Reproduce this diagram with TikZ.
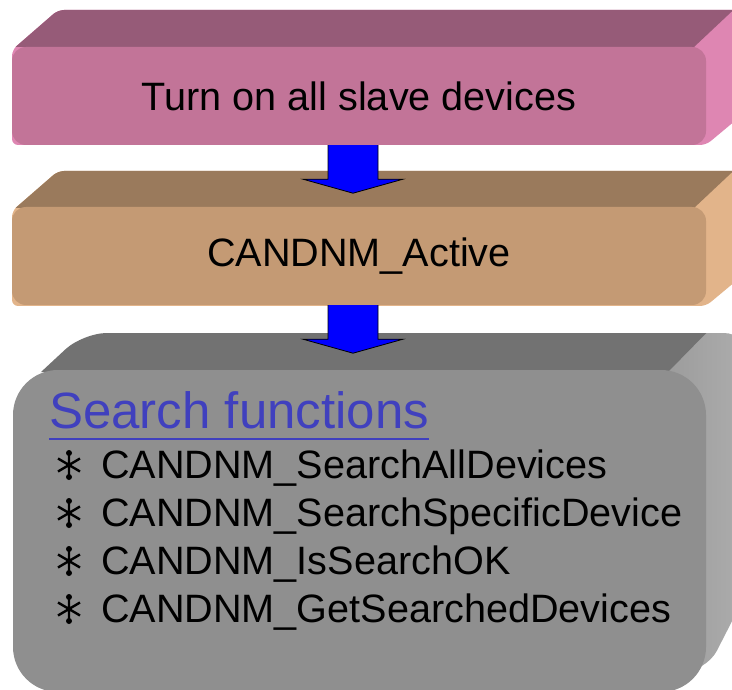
\documentclass[tikz,border=0pt]{standalone}
\usepackage{fontspec}
\setmainfont{Liberation Sans}
\usetikzlibrary{calc}

\definecolor{pinkfront}{RGB}{194,116,152}
\definecolor{pinktop}{RGB}{150,91,120}
\definecolor{pinkside}{RGB}{222,134,178}
\definecolor{tanfront}{RGB}{196,154,116}
\definecolor{tantop}{RGB}{154,122,92}
\definecolor{tanside}{RGB}{226,180,138}
\definecolor{greyfront}{RGB}{143,143,143}
\definecolor{greytop}{RGB}{114,114,114}
\definecolor{greysideA}{RGB}{150,150,150}
\definecolor{greysideB}{RGB}{176,176,176}
\definecolor{headblue}{RGB}{64,64,190}
\definecolor{flowblue}{RGB}{0,0,255}

% blue flow arrow hanging below the south anchor of a node
\newcommand\flowarrow[2]{%
  \coordinate (#2) at ($(#1.south)+(-6,48)$);
  \filldraw[flowblue, draw=black, line width=0.8pt]
    ($(#1.south)+(-31,0)$) -- ++(0,34) -- ++(-25,0) -- (#2)
    -- ($(#1.south)+(44,34)$) -- ++(-25,0) -- ++(0,-34);
}

\begin{document}
\begin{tikzpicture}[x=1pt, y=-1pt,
  plainfont/.style={font=\fontsize{39.6}{47}\selectfont},
  frontface/.style={rectangle, rounded corners=14pt, minimum width=694pt,
    minimum height=98pt, inner sep=0pt, plainfont},
  itemtext/.style={anchor=base west, inner sep=0pt, plainfont},
  spokestar/.pic={
    \draw[line width=2.4pt] (0,-11) -- (0,11)
      (-11,-6.5) -- (11,6.5) (-11,6.5) -- (11,-6.5);
    \fill (0,-12) circle (3pt) (0,12) circle (3pt);
  }]
\useasboundingbox (0,0) rectangle (732,690);
\clip (0,0) rectangle (732,690);

% ---- first box: top and right faces
\begin{scope}
  \clip[rounded corners=6pt] (12,50) -- (58,10) -- (760,10) -- (760,100)
    -- (706,145) -- (12,145) -- cycle;
  \fill[pinkside] (0,0) rectangle (760,160);
  \fill[pinktop] (-10,0) -- (744,0) -- (694,47) -- (-10,47) -- cycle;
\end{scope}
\node[frontface, fill=pinkfront] (turnon) at (359,96) {Turn on all slave devices};

% ---- second box: top and right faces
\begin{scope}[shift={(0,161)}]
  \clip[rounded corners=6pt] (12,50) -- (58,10) -- (760,10) -- (760,100)
    -- (706,145) -- (12,145) -- cycle;
  \fill[tanside] (0,0) rectangle (760,160);
  \fill[tantop] (-10,0) -- (744,0) -- (694,47) -- (-10,47) -- cycle;
\end{scope}
\node[frontface, fill=tanfront] (active) at (359,256) {CANDNM\_Active};

% ---- third box: top and right faces
\begin{scope}
  \clip[rounded corners=24pt] (13,398) -- (83,333) -- (748,333) -- (748,590)
    -- (706,672) -- (13,672) -- cycle;
  \shade[left color=greysideA, right color=greysideB] (640,320) rectangle (760,700);
  \fill[greytop] (-10,320) -- (719,320) -- (668,372) -- (-10,372) -- cycle;
\end{scope}
\node[rectangle, rounded corners=45pt, minimum width=693pt, minimum height=322pt,
  inner sep=0pt, fill=greyfront] (search) at (359.5,531) {};

% ---- arrows between the boxes
\flowarrow{turnon}{tipA}
\flowarrow{active}{tipB}

% ---- contents of the third box
\node[anchor=base west, inner sep=0pt, text=headblue,
  font=\fontsize{51}{60}\selectfont] (head) at (49,428) {Search functions};
\draw[headblue, line width=2pt] ([yshift=-11pt]head.base west) -- ([yshift=-11pt]head.base east);

\node[itemtext] (item1) at (101,478) {CANDNM\_SearchAllDevices};
\node[itemtext] (item2) at (101,526) {CANDNM\_SearchSpecificDevice};
\node[itemtext] (item3) at (101,574) {CANDNM\_IsSearchOK};
\node[itemtext] (item4) at (101,622) {CANDNM\_GetSearchedDevices};
\foreach \i in {1,...,4}
  \pic at ($(item\i.base west)+(-32,-13)$) {spokestar};
\end{tikzpicture}
\end{document}
